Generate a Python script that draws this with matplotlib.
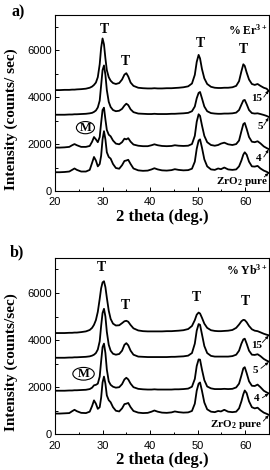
"""XRD patterns of ZrO2 doped with Er3+ (a) and Yb3+ (b)."""

import matplotlib
matplotlib.use("Agg")
import matplotlib.pyplot as plt
from matplotlib.patches import Ellipse
from matplotlib.ticker import MultipleLocator

# shared 2-theta grid (deg.)
two_theta = [
    20, 21, 22, 23, 23.6, 24.1, 24.6, 25.5, 26.5, 27.3,
    27.8, 28.2, 28.6, 29.0, 29.4, 29.7, 30.0, 30.3, 30.6, 30.9,
    31.3, 31.7, 32.2, 32.8, 33.5, 34.1, 34.6, 35.0, 35.4, 35.9,
    36.5, 37.5, 38.5, 39.5, 40.3, 40.9, 41.6, 42.5, 43.5, 44.5,
    45.2, 46, 47, 48, 48.8, 49.4, 49.8, 50.2, 50.5, 50.9,
    51.4, 52, 52.8, 53.6, 54.3, 54.9, 55.6, 56.4, 57.3, 58.1,
    58.7, 59.2, 59.6, 59.9, 60.3, 60.8, 61.4, 62, 62.6, 63.2,
    63.9, 64.5, 65,
]

# panel a) Er3+
er_15 = [
    4300, 4300, 4310, 4310, 4320, 4320, 4330, 4340, 4360, 4400,
    4450, 4520, 4620, 4850, 5400, 6100, 6500, 6250, 5650, 5150,
    4850, 4700, 4600, 4560, 4600, 4750, 4960, 5020, 4880, 4620,
    4480, 4400, 4380, 4370, 4370, 4380, 4370, 4370, 4380, 4380,
    4390, 4400, 4420, 4460, 4580, 4950, 5500, 5800, 5650, 5200,
    4800, 4560, 4440, 4400, 4390, 4390, 4400, 4400, 4420, 4480,
    4680, 5100, 5400, 5330, 5050, 4750, 4560, 4520, 4560, 4480,
    4400, 4360, 4250,
]
er_5 = [
    3250, 3250, 3250, 3260, 3260, 3270, 3270, 3280, 3290, 3310,
    3330, 3370, 3430, 3560, 3850, 4500, 5150, 5350, 4950, 4300,
    3800, 3580, 3450, 3400, 3420, 3500, 3640, 3720, 3660, 3480,
    3360, 3300, 3290, 3280, 3280, 3290, 3280, 3280, 3280, 3290,
    3290, 3300, 3310, 3330, 3400, 3600, 3950, 4180, 4220, 3950,
    3600, 3400, 3320, 3300, 3290, 3290, 3300, 3300, 3310, 3340,
    3450, 3680, 3860, 3880, 3700, 3450, 3320, 3300, 3310, 3280,
    3240, 3200, 3150,
]
er_4 = [
    1850, 1850, 1860, 1880, 1950, 2000, 1950, 1880, 1880, 1920,
    2100, 2300, 2200, 2080, 2300, 2900, 3450, 3550, 3050, 2600,
    2400, 2330, 2150, 2020, 1990, 2080, 2230, 2200, 2250, 2100,
    1980, 1930, 1910, 1910, 1950, 1990, 1950, 1920, 1910, 1920,
    1950, 1930, 1920, 1930, 2000, 2350, 2950, 3270, 3200, 2800,
    2350, 2080, 1960, 1930, 1960, 2020, 2060, 1990, 1960, 2000,
    2150, 2550, 2850, 2900, 2650, 2300, 2100, 2080, 2120, 2030,
    1900, 1830, 1780,
]
er_pure = [
    800, 800, 810, 830, 900, 960, 900, 830, 830, 900,
    1200, 1450, 1300, 1050, 1150, 1500, 2200, 2550, 2200, 1650,
    1450, 1380, 1150, 980, 950, 1100, 1280, 1300, 1330, 1150,
    960, 880, 860, 870, 920, 970, 920, 880, 870, 890,
    930, 900, 880, 890, 950, 1250, 1800, 2150, 2200, 1850,
    1350, 1050, 920, 900, 960, 930, 1000, 920, 900, 920,
    1050, 1300, 1550, 1650, 1550, 1250, 1050, 1040, 1070, 960,
    870, 820, 760,
]

# panel b) Yb3+
yb_15 = [
    4300, 4300, 4300, 4310, 4310, 4320, 4320, 4340, 4370, 4430,
    4520, 4650, 4850, 5200, 5750, 6200, 6450, 6500, 6250, 5800,
    5250, 4900, 4700, 4620, 4630, 4720, 4800, 4820, 4780, 4640,
    4500, 4410, 4380, 4370, 4370, 4370, 4370, 4370, 4380, 4380,
    4390, 4400, 4420, 4470, 4600, 4850, 5080, 5170, 5130, 4950,
    4700, 4520, 4420, 4390, 4380, 4380, 4390, 4400, 4430, 4520,
    4660, 4800, 4860, 4850, 4760, 4600, 4460, 4400, 4380, 4330,
    4270, 4230, 4200,
]
yb_5 = [
    3250, 3250, 3250, 3260, 3260, 3270, 3270, 3280, 3290, 3310,
    3340, 3380, 3450, 3600, 3950, 4600, 5150, 5330, 5000, 4350,
    3800, 3550, 3420, 3380, 3410, 3550, 3800, 3870, 3780, 3550,
    3380, 3300, 3290, 3280, 3280, 3280, 3280, 3280, 3280, 3290,
    3290, 3300, 3310, 3340, 3450, 3850, 4400, 4680, 4650, 4250,
    3750, 3450, 3330, 3300, 3300, 3300, 3300, 3300, 3320, 3380,
    3550, 3850, 4030, 4060, 3850, 3550, 3380, 3370, 3400, 3320,
    3200, 3130, 3080,
]
yb_4 = [
    1850, 1850, 1850, 1860, 1860, 1870, 1870, 1880, 1890, 1920,
    1980, 2080, 2100, 2150, 2450, 3100, 3700, 3850, 3450, 2750,
    2250, 2100, 2020, 1980, 2000, 2130, 2330, 2400, 2330, 2150,
    2000, 1930, 1910, 1900, 1900, 1910, 1900, 1900, 1900, 1900,
    1910, 1910, 1920, 1940, 2020, 2350, 2900, 3180, 3170, 2750,
    2300, 2030, 1950, 1920, 1920, 1920, 1930, 1920, 1930, 1990,
    2150, 2500, 2800, 2850, 2600, 2250, 2060, 2050, 2110, 2000,
    1850, 1780, 1730,
]
yb_pure = [
    880, 880, 890, 900, 980, 1040, 980, 910, 900, 960,
    1200, 1440, 1300, 1080, 1150, 1550, 2200, 2450, 2150, 1650,
    1450, 1360, 1150, 1000, 970, 1100, 1280, 1300, 1330, 1150,
    990, 920, 900, 910, 960, 1010, 960, 920, 910, 930,
    970, 940, 920, 930, 990, 1300, 1850, 2150, 2200, 1850,
    1350, 1060, 960, 940, 990, 970, 1040, 960, 940, 960,
    1100, 1400, 1700, 1860, 1750, 1400, 1150, 1100, 1130, 1020,
    920, 870, 820,
]

SERIF = "Liberation Serif"
SANS = "Liberation Sans"


def style_axes(ax):
    ax.set_xlim(20, 65)
    ax.set_ylim(0, 7500)
    ax.xaxis.set_major_locator(MultipleLocator(10))
    ax.xaxis.set_minor_locator(MultipleLocator(5))
    ax.yaxis.set_major_locator(MultipleLocator(2000))
    ax.yaxis.set_minor_locator(MultipleLocator(1000))
    ax.tick_params(which="both", direction="in", top=False, right=False,
                   labelsize=8, width=0.7)
    ax.tick_params(axis="x", pad=4.5)
    ax.tick_params(axis="y", pad=2)
    ax.tick_params(which="major", length=3)
    ax.tick_params(which="minor", length=1.8)
    for lab in ax.get_xticklabels() + ax.get_yticklabels():
        lab.set_family(SANS)
    for s in ax.spines.values():
        s.set_linewidth(0.8)
    ax.set_xlabel("2 theta (deg.)", family=SERIF, weight="bold", fontsize=12, labelpad=1)


def draw_panel(ax, curves, ylabel, ion, t_marks, m_pos, labels, arrows, pure_x):
    for y in curves:
        ax.plot(two_theta, y, color="black", lw=1.3)
    style_axes(ax)
    ax.set_ylabel(ylabel, family=SERIF, weight="bold", fontsize=11)
    ax.yaxis.set_label_coords(-0.175, 0.41)
    for tx, ty in t_marks:
        ax.text(tx, ty, "T", family=SERIF, weight="bold", fontsize=10,
                ha="center", va="center")
    ax.text(64.6, ion[1], ion[0], family=SERIF, weight="bold", fontsize=8.5,
            ha="right", va="center")
    ax.add_patch(Ellipse(m_pos[:2], m_pos[2], m_pos[3], fill=False, lw=0.8))
    ax.text(m_pos[0], m_pos[1], "M", family=SERIF, weight="bold", fontsize=9,
            ha="center", va="center")
    for (lx, ly, txt) in labels:
        ax.text(lx, ly, txt, family=SERIF, weight="bold", fontsize=8,
                ha="center", va="center")
    ax.text(pure_x, 400, "ZrO$_2$ pure", family=SERIF, weight="bold", fontsize=8,
            ha="right", va="center")
    for (x0, y0, x1, y1) in arrows:
        ax.annotate("", xy=(x1, y1), xytext=(x0, y0),
                    arrowprops=dict(arrowstyle="-|>", lw=0.6, color="black",
                                    mutation_scale=4, shrinkA=0, shrinkB=0))


def main() -> None:
    plt.rcParams["mathtext.fontset"] = "custom"
    plt.rcParams["mathtext.rm"] = SERIF + ":bold"
    plt.rcParams["mathtext.it"] = SERIF + ":bold"
    plt.rcParams["mathtext.bf"] = SERIF + ":bold"

    fig = plt.figure(figsize=(2.7, 4.7), dpi=100)
    ax_a = fig.add_axes([0.2037, 0.5936, 0.7926, 0.3745])
    ax_b = fig.add_axes([0.2037, 0.0760, 0.7926, 0.3757])

    draw_panel(
        ax_a, [er_15, er_5, er_4, er_pure], "Intensity (counts/ sec)",
        ("% Er$^{3+}$", 6850),
        [(30.3, 6870), (34.9, 5530), (50.5, 6280), (59.6, 6030)],
        (26.4, 2700, 3.8, 520),
        [(62.3, 3950, "15"), (63.2, 2750, "5"), (62.9, 1400, "4")],
        [(63.9, 4000, 64.9, 4280), (63.9, 2800, 64.9, 3120),
         (63.9, 1450, 64.9, 1760), (64.0, 600, 64.9, 760)],
        64.8,
    )
    draw_panel(
        ax_b, [yb_15, yb_5, yb_4, yb_pure], "Intensity (counts/sec)",
        ("% Yb$^{3+}$", 6950),
        [(29.8, 7100), (34.9, 5480), (49.8, 5830), (60.0, 5620)],
        (26.0, 2570, 4.5, 540),
        [(62.5, 3780, "15"), (62.2, 2730, "5"), (62.5, 1520, "4")],
        [(63.6, 3900, 64.9, 4180), (63.3, 2800, 64.9, 3060),
         (63.6, 1550, 64.9, 1720), (63.8, 560, 64.9, 800)],
        63.6,
    )

    fig.text(0.067, 0.974, "a)", family=SERIF, weight="bold", fontsize=11.5,
             ha="center", va="center")
    fig.text(0.063, 0.462, "b)", family=SERIF, weight="bold", fontsize=11.5,
             ha="center", va="center")

    fig.savefig("out.png", dpi=100)


if __name__ == "__main__":
    main()
